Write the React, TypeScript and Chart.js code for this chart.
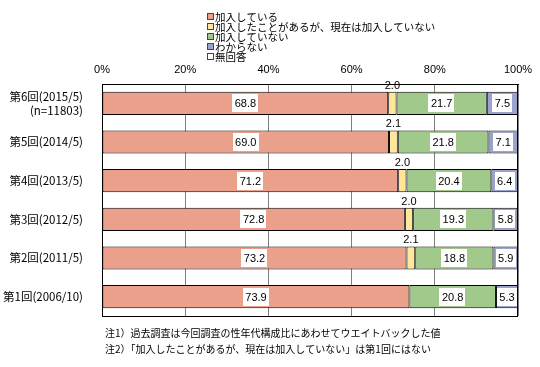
import React, { useEffect, useRef } from "react";
import { Chart, registerables } from "chart.js";

Chart.register(...registerables);

const categories: (string | string[])[] = [
  ["第6回(2015/5)", "(n=11803)"],
  "第5回(2014/5)",
  "第4回(2013/5)",
  "第3回(2012/5)",
  "第2回(2011/5)",
  "第1回(2006/10)",
];
const seriesNames = [
  "加入している",
  "加入したことがあるが、現在は加入していない",
  "加入していない",
  "わからない",
  "無回答",
];
const joined = [68.8, 69.0, 71.2, 72.8, 73.2, 73.9];
const formerly: (number | null)[] = [2.0, 2.1, 2.0, 2.0, 2.1, null];
const notJoined = [21.7, 21.8, 20.4, 19.3, 18.8, 20.8];
const unknown = [7.5, 7.1, 6.4, 5.8, 5.9, 5.3];
const noAnswer = [0, 0, 0, 0, 0, 0];
const xTicks = [0, 20, 40, 60, 80, 100];
const footnotes = [
  "注1）過去調査は今回調査の性年代構成比にあわせてウエイトバックした値",
  "注2）「加入したことがあるが、現在は加入していない」は第1回にはない",
];

const colors = ["#EBA08B", "#FFE699", "#A0C98B", "#9BA3CC", "#FFFFFF"];
const JP = '"Noto Sans CJK JP", sans-serif';
const NUM = '"Liberation Sans", sans-serif';

const overlayPlugin = {
  id: "overlay",
  afterDatasetsDraw(chart: any) {
    const ctx = chart.ctx;
    const area = chart.chartArea;
    ctx.save();
    // plot border
    ctx.strokeStyle = "#000";
    ctx.lineWidth = 1;
    ctx.strokeRect(Math.round(area.left) + 0.5, Math.round(area.top) + 0.5, Math.round(area.right - area.left) - 1, Math.round(area.bottom - area.top));
    // value labels
    ctx.font = "11px " + NUM;
    ctx.textAlign = "center";
    ctx.textBaseline = "middle";
    chart.data.datasets.forEach((ds: any, di: number) => {
      const meta = chart.getDatasetMeta(di);
      meta.data.forEach((el: any, i: number) => {
        const v = ds.data[i];
        if (v == null || v === 0) return;
        const cx = (el.x + el.base) / 2;
        const txt = v.toFixed(1);
        if (di === 1) {
          ctx.fillStyle = "#000";
          ctx.fillText(txt, cx, el.y - el.height / 2 - 6);
          return;
        }
        const w = ctx.measureText(txt).width + 5;
        const h = 18;
        ctx.fillStyle = "#fff";
        ctx.fillRect(Math.round(cx - w / 2), Math.round(el.y - h / 2), Math.round(w), h);
        ctx.fillStyle = "#000";
        ctx.fillText(txt, cx, el.y + 1);
      });
    });
    // legend
    ctx.font = "10.5px " + JP;
    ctx.textAlign = "left";
    ctx.textBaseline = "middle";
    chart.data.datasets.forEach((ds: any, di: number) => {
      const y = 17 + di * 10;
      ctx.fillStyle = ds.backgroundColor;
      ctx.fillRect(208, y - 3, 6, 6);
      ctx.strokeStyle = "#444";
      ctx.strokeRect(207.5, y - 3.5, 6, 6);
      ctx.fillStyle = "#000";
      ctx.fillText(ds.label, 215, y);
    });
    // footnotes
    ctx.font = "10px " + JP;
    footnotes.forEach((t, i) => {
      ctx.fillText(t, 105, 333 + i * 16);
    });
    ctx.restore();
  },
};

export default function App() {
  const ref = useRef<HTMLCanvasElement>(null);
  useEffect(() => {
    if (!ref.current) return;
    const series = [joined, formerly, notJoined, unknown, noAnswer];
    const chart = new Chart(ref.current, {
      type: "bar",
      data: {
        labels: categories,
        datasets: series.map((d, i) => ({
          label: seriesNames[i],
          data: d,
          backgroundColor: colors[i],
          borderColor: "#000",
          borderWidth: i === 4 ? 0 : 1,
          borderSkipped: false,
          barPercentage: 0.6,
          categoryPercentage: 1,
        })),
      },
      options: {
        indexAxis: "y",
        responsive: false,
        animation: false,
        devicePixelRatio: 1,
        layout: { padding: { left: 0, top: 0, right: 22, bottom: 51 } },
        plugins: { legend: { display: false }, tooltip: { enabled: false } },
        scales: {
          x: {
            position: "top",
            stacked: true,
            min: 0,
            max: 100,
            afterBuildTicks: (s: any) => {
              s.ticks = xTicks.map((v) => ({ value: v }));
            },
            afterFit: (s: any) => {
              s.height = 84;
            },
            ticks: {
              callback: (v: any) => v + "%",
              font: { family: NUM, size: 11 },
              color: "#000",
              padding: 7,
              maxRotation: 0,
            },
            grid: { color: "#808080", drawTicks: false, lineWidth: 1 },
            border: { color: "#000" },
          },
          y: {
            stacked: true,
            afterFit: (s: any) => {
              s.width = 102;
            },
            ticks: {
              font: { family: JP, size: 11.5 },
              color: "#000",
              padding: 19,
            },
            grid: { display: false, drawTicks: false },
            border: { color: "#000" },
          },
        },
      },
      plugins: [overlayPlugin],
    } as any);
    return () => chart.destroy();
  }, []);
  return (
    <div style={{ position: "absolute", left: 0, top: 0, width: 540, height: 367, background: "#fff" }}>
      <canvas ref={ref} width={540} height={367} />
    </div>
  );
}
